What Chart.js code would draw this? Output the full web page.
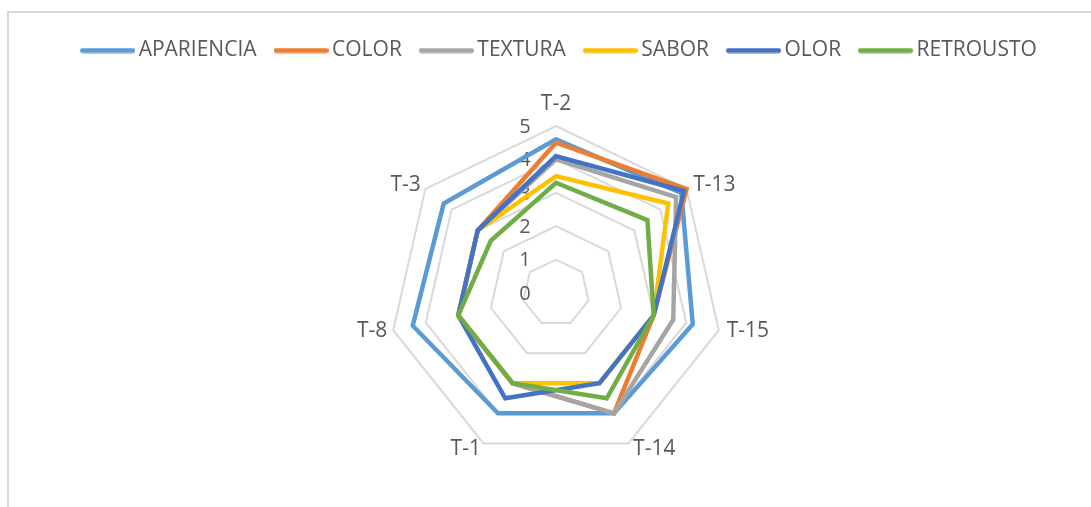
<!DOCTYPE html>
<html>
<head>
<meta charset="utf-8">
<script src="https://cdn.jsdelivr.net/npm/chart.js@4.4.1/dist/chart.umd.min.js"></script>
<style>
  html, body { margin: 0; padding: 0; background: #fff; overflow: hidden; }
  #frame { position: absolute; left: 7px; top: 11px; width: 1084px; height: 496px; border-left: 2px solid #d9d9d9; border-top: 2px solid #d9d9d9; }
  #wrap { position: absolute; left: 0; top: 0; width: 1091px; height: 507px; }
</style>
</head>
<body>
<div id="frame"></div>
<div id="wrap"><canvas id="chart" width="1091" height="507"></canvas></div>
<script>
// axes, clockwise from the top
var labels = ['T-2', 'T-13', 'T-15', 'T-14', 'T-1', 'T-8', 'T-3']
var seriesNames = ['APARIENCIA', 'COLOR', 'TEXTURA', 'SABOR', 'OLOR', 'RETROUSTO']
var apariencia = [4.6, 4.8, 4.2, 4.0, 4.0, 4.4, 4.3]
var color = [4.5, 5.0, 3.0, 4.0, 3.0, 3.0, 3.0]
var textura = [4.0, 4.6, 3.6, 4.0, 3.0, 3.0, 3.0]
var sabor = [3.5, 4.3, 3.0, 3.0, 3.0, 3.0, 3.0]
var olor = [4.1, 4.9, 3.0, 3.0, 3.5, 3.0, 3.0]
var retrousto = [3.3, 3.5, 3.0, 3.5, 3.0, 3.0, 2.5]
var tickMin = 0
var tickMax = 5

var seriesValues = [apariencia, color, textura, sabor, olor, retrousto]
var colors = ['#5b9bd5', '#ed7d31', '#a5a5a5', '#ffc000', '#4472c4', '#70ad47']
var textColor = '#595959'
var font = '"Open Sans", "Liberation Sans", sans-serif'

// legend line swatches (drawn as images so the gap to the text matches)
function swatch(c) {
    var cv = document.createElement('canvas')
    cv.width = 55
    cv.height = 6
    var g = cv.getContext('2d')
    g.strokeStyle = c
    g.lineWidth = 5
    g.lineCap = 'round'
    g.beginPath()
    g.moveTo(2.5, 3)
    g.lineTo(52.5, 3)
    g.stroke()
    return cv
}
var swatches = colors.map(swatch)

var datasets = seriesNames.map(function(name, i) {
    return {
        label: name,
        data: seriesValues[i],
        borderColor: colors[i],
        backgroundColor: colors[i],
        borderWidth: 4.5,
        fill: false,
        pointRadius: 0,
        pointHoverRadius: 0,
        order: seriesNames.length - i
    }
})

// extra room under the legend, legend nudged a bit to the right
var legendGap = {
    id: 'legendGap',
    afterInit(chart) {
        var fit = chart.legend.fit
        chart.legend.fit = function() {
            fit.call(this)
            this.height += 55
        }
    },
    afterLayout(chart) {
        chart.legend.left += 6
        chart.legend.right += 6
    }
}

// tick numbers left of the vertical axis, axis names outside the grid
var radarText = {
    id: 'radarText',
    beforeDatasetsDraw(chart) {
        var scale = chart.scales.r
        var ctx = chart.ctx
        ctx.save()
        ctx.font = '20px ' + font
        ctx.fillStyle = textColor
        ctx.textAlign = 'center'
        ctx.textBaseline = 'middle'
        scale.ticks.forEach(function(t) {
            var d = scale.getDistanceFromCenterForValue(t.value)
            ctx.fillText(t.label, scale.xCenter - 31, scale.yCenter - d + 1)
        })
        ctx.restore()
    },
    afterDatasetsDraw(chart) {
        var scale = chart.scales.r
        var ctx = chart.ctx
        ctx.save()
        ctx.font = '21px ' + font
        ctx.fillStyle = textColor
        ctx.textBaseline = 'middle'
        chart.data.labels.forEach(function(lbl, i) {
            var p = scale.getPointPosition(i, scale.drawingArea + 6)
            var dx = p.x - scale.xCenter
            var y = p.y
            if (Math.abs(dx) < 2) {
                ctx.textAlign = 'center'
                y -= 16
            } else {
                ctx.textAlign = dx > 0 ? 'left' : 'right'
                if (dx > 0) p.x += 2
            }
            ctx.fillText(lbl, p.x, y)
        })
        ctx.restore()
    }
}

var el = document.getElementById('chart')
var chart = new Chart(el, {
    type: 'radar',
    data: { labels: labels, datasets: datasets },
    options: {
        responsive: false,
        animation: false,
        events: [],
        layout: { padding: { top: 16, left: 21, right: 0, bottom: 46 } },
        elements: { line: { tension: 0, borderJoinStyle: 'miter' } },
        scales: {
            r: {
                min: tickMin,
                max: tickMax,
                ticks: { stepSize: 1, display: false },
                grid: { color: '#d9d9d9', lineWidth: 2, circular: false },
                angleLines: { display: false },
                pointLabels: { display: false }
            }
        },
        plugins: {
            tooltip: { enabled: false },
            legend: {
                position: 'top',
                labels: {
                    font: { family: font, size: 21 },
                    color: textColor,
                    usePointStyle: true,
                    pointStyleWidth: 41,
                    padding: 24,
                    sort: function(a, b) { return a.datasetIndex - b.datasetIndex },
                    generateLabels: function(chart) {
                        var items = Chart.defaults.plugins.legend.labels.generateLabels(chart)
                        items.forEach(function(it) { it.pointStyle = swatches[it.datasetIndex] })
                        return items
                    }
                }
            }
        }
    },
    plugins: [legendGap, radarText]
})
</script>
</body>
</html>
